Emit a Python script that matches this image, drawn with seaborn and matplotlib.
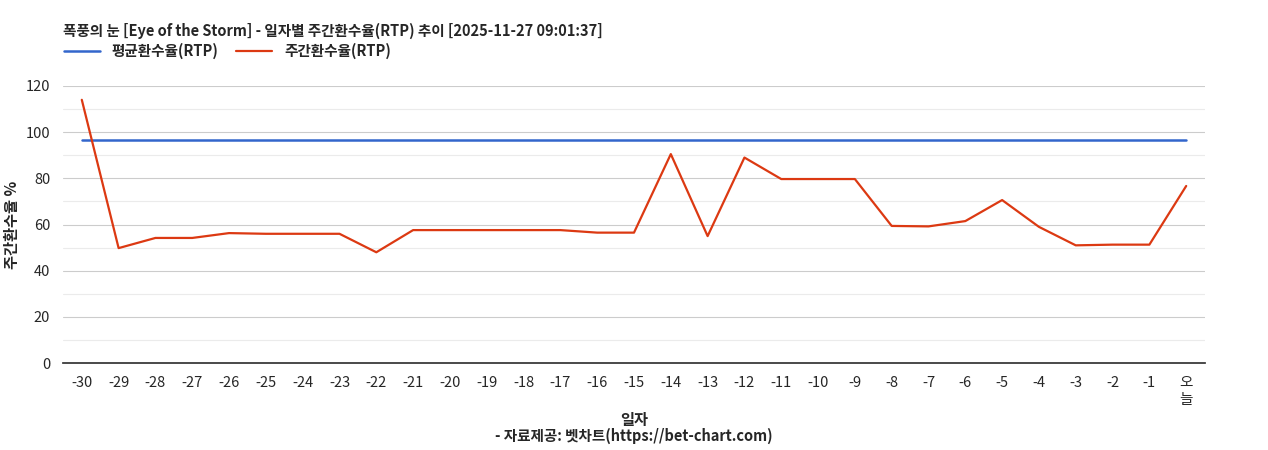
import matplotlib
matplotlib.use("Agg")
import matplotlib.pyplot as plt
import seaborn as sns
import pandas as pd

days = [str(d) for d in range(-30, 0)] + ["오\n늘"]
rtp = [114, 49.8, 54.2, 54.2, 56.3, 56, 56, 56, 48, 57.6,
       57.6, 57.6, 57.6, 57.6, 56.5, 56.5, 90.5, 55, 89, 79.7,
       79.7, 79.7, 59.4, 59.2, 61.5, 70.6, 59, 51, 51.3, 51.3, 76.7]
avg_rtp = 96.6

sns.set_theme(style="white")
plt.rcParams['font.family'] = ['Noto Sans CJK KR', 'DejaVu Sans']

df = pd.DataFrame({"x": range(len(days)), "rtp": rtp, "avg": [avg_rtp] * len(days)})

fig, ax = plt.subplots(figsize=(12.68, 4.5), dpi=100)
fig.subplots_adjust(left=0.05, right=0.95, top=0.809, bottom=0.193)

for y in range(10, 120, 20):
    ax.axhline(y, color="#ebebeb", lw=0.8, zorder=0)
for y in range(20, 140, 20):
    ax.axhline(y, color="#cccccc", lw=0.8, zorder=0)

sns.lineplot(data=df, x="x", y="avg", ax=ax, color="#3366cc", lw=1.8, label="평균환수율(RTP)")
sns.lineplot(data=df, x="x", y="rtp", ax=ax, color="#dc3912", lw=1.6, label="주간환수율(RTP)")

ax.set_xlim(-0.5, len(days) - 0.5)
ax.set_ylim(0, 120)
ax.set_yticks(range(0, 140, 20))
ax.set_xticks(range(len(days)))
ax.set_xticklabels(days, fontsize=10.5)
ax.tick_params(axis="y", labelsize=10.5)
for s in ["top", "right", "left"]:
    ax.spines[s].set_visible(False)
ax.spines["bottom"].set_color("#333333")
ax.set_xlabel("일자", fontsize=11, fontweight="bold")
ax.set_ylabel("주간환수율 %", fontsize=11, fontweight="bold")

fig.text(0.05, 0.92, "폭풍의 눈 [Eye of the Storm] - 일자별 주간환수율(RTP) 추이 [2025-11-27 09:01:37]",
         fontsize=10.5, fontweight="bold", ha="left")
ax.legend(loc="lower left", bbox_to_anchor=(-0.005, 1.075), ncol=2, frameon=False,
          handlelength=2.5, columnspacing=1.2, borderaxespad=0,
          prop={"weight": "bold", "size": 10.5})
fig.text(0.5, 0.02, "- 자료제공: 벳차트(https://bet-chart.com)", fontsize=10.5,
         fontweight="bold", ha="center")

fig.savefig("out.png", dpi=100)
